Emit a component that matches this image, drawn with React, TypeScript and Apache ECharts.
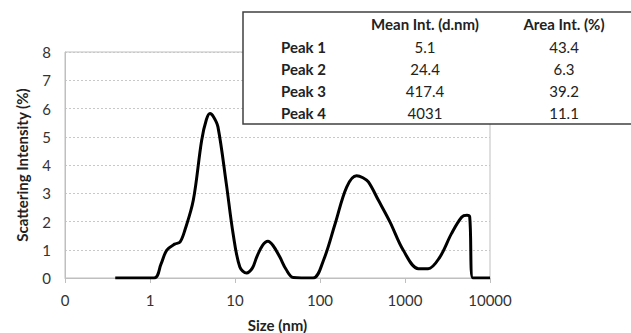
import React, { useEffect, useRef } from "react";
import * as echarts from "echarts";

const sizes = [0.39, 1.12, 1.35, 1.57, 1.95, 2.25, 2.57, 3.23, 4.05, 4.6, 5.08, 5.6, 6.3, 7.9, 9.5, 11.4, 13.7, 16, 18, 21, 24.4, 28, 33.7, 40, 48.5, 83, 110, 151, 206, 269, 320, 371, 487, 667, 955, 1440, 1870, 2570, 3520, 4660, 5360, 5770, 6290, 10000];
const intensity = [0, 0, 0.5, 0.98, 1.2, 1.27, 1.69, 2.75, 4.87, 5.6, 5.82, 5.7, 5.35, 3.34, 1.57, 0.39, 0.18, 0.35, 0.74, 1.15, 1.3, 1.15, 0.74, 0.3, 0.02, 0, 0.63, 1.93, 3.22, 3.62, 3.55, 3.4, 2.75, 1.98, 0.98, 0.33, 0.33, 0.74, 1.57, 2.16, 2.22, 2.16, 0, 0];

const peakNames = ["Peak 1", "Peak 2", "Peak 3", "Peak 4"];
const meanInt = ["5.1", "24.4", "417.4", "4031"];
const areaInt = ["43.4", "6.3", "39.2", "11.1"];
const yTicks = [0, 8, 1];

const FONT = "Lato, 'Open Sans', sans-serif";
const FS = 15;

export default function App() {
  const ref = useRef<HTMLDivElement>(null);
  useEffect(() => {
    const chart = echarts.init(ref.current!, null, { renderer: "svg" });
    const rowY = [47, 69, 90.5, 112.5];
    const tableEls: any[] = [
      {
        type: "rect",
        shape: { x: 243, y: 12, width: 400, height: 112 },
        style: { fill: "#fff", stroke: "#404040", lineWidth: 1.5 },
        z: 100,
      },
      {
        type: "text",
        x: 425,
        y: 24,
        style: { text: "Mean Int. (d.nm)", fontFamily: FONT, fontSize: FS, fontWeight: "bold", fill: "#222", align: "center", verticalAlign: "middle" },
        z: 101,
      },
      {
        type: "text",
        x: 564,
        y: 24,
        style: { text: "Area Int. (%)", fontFamily: FONT, fontSize: FS, fontWeight: "bold", fill: "#222", align: "center", verticalAlign: "middle" },
        z: 101,
      },
    ];
    peakNames.forEach((p, i) => {
      tableEls.push({
        type: "text",
        x: 281,
        y: rowY[i],
        style: { text: p, fontFamily: FONT, fontSize: FS, fontWeight: "bold", fill: "#222", align: "left", verticalAlign: "middle" },
        z: 101,
      });
      tableEls.push({
        type: "text",
        x: 425,
        y: rowY[i],
        style: { text: meanInt[i], fontFamily: FONT, fontSize: FS, fill: "#222", align: "center", verticalAlign: "middle" },
        z: 101,
      });
      tableEls.push({
        type: "text",
        x: 564,
        y: rowY[i],
        style: { text: areaInt[i], fontFamily: FONT, fontSize: FS, fill: "#222", align: "center", verticalAlign: "middle" },
        z: 101,
      });
    });

    chart.setOption({
      animation: false,
      backgroundColor: "#fff",
      grid: {
        left: 65,
        right: 141,
        top: 52,
        bottom: 55,
        show: true,
        borderColor: "#bfbfbf",
        borderWidth: 1,
        containLabel: false,
        outerBoundsMode: "none",
      },
      xAxis: {
        type: "log",
        logBase: 10,
        min: 0.1,
        max: 10000,
        name: "Size (nm)",
        nameLocation: "middle",
        nameGap: 39,
        nameTextStyle: { fontFamily: FONT, fontSize: FS, fontWeight: "bold", color: "#222" },
        axisLine: { show: true, lineStyle: { color: "#bfbfbf", width: 1 } },
        axisTick: { show: true, length: 5, lineStyle: { color: "#bfbfbf" } },
        axisLabel: {
          fontFamily: FONT,
          fontSize: FS,
          color: "#333",
          margin: 14,
          formatter: (v: number) => (v < 1 ? "0" : String(Math.round(v))),
        },
        splitLine: { show: false },
        minorTick: { show: false },
      },
      yAxis: {
        type: "value",
        min: yTicks[0],
        max: yTicks[1],
        interval: yTicks[2],
        name: "Scattering Intensity (%)",
        nameLocation: "middle",
        nameGap: 36,
        nameTextStyle: { fontFamily: FONT, fontSize: FS, fontWeight: "bold", color: "#222" },
        axisLine: { show: true, lineStyle: { color: "#bfbfbf", width: 1 } },
        axisTick: { show: false },
        axisLabel: { fontFamily: FONT, fontSize: FS, color: "#333", margin: 14 },
        splitLine: { show: true, lineStyle: { color: "#c8c8c8", type: [2, 2], width: 1 } },
      },
      series: [
        {
          type: "line",
          data: sizes.map((s, i) => [s, intensity[i]]),
          showSymbol: false,
          symbol: "none",
          smooth: 0.35,
          lineStyle: { color: "#000", width: 3 },
        },
      ],
      graphic: tableEls,
    });
    return () => chart.dispose();
  }, []);
  return <div ref={ref} style={{ width: 631, height: 333, position: "absolute", left: 0, top: 0 }} />;
}
